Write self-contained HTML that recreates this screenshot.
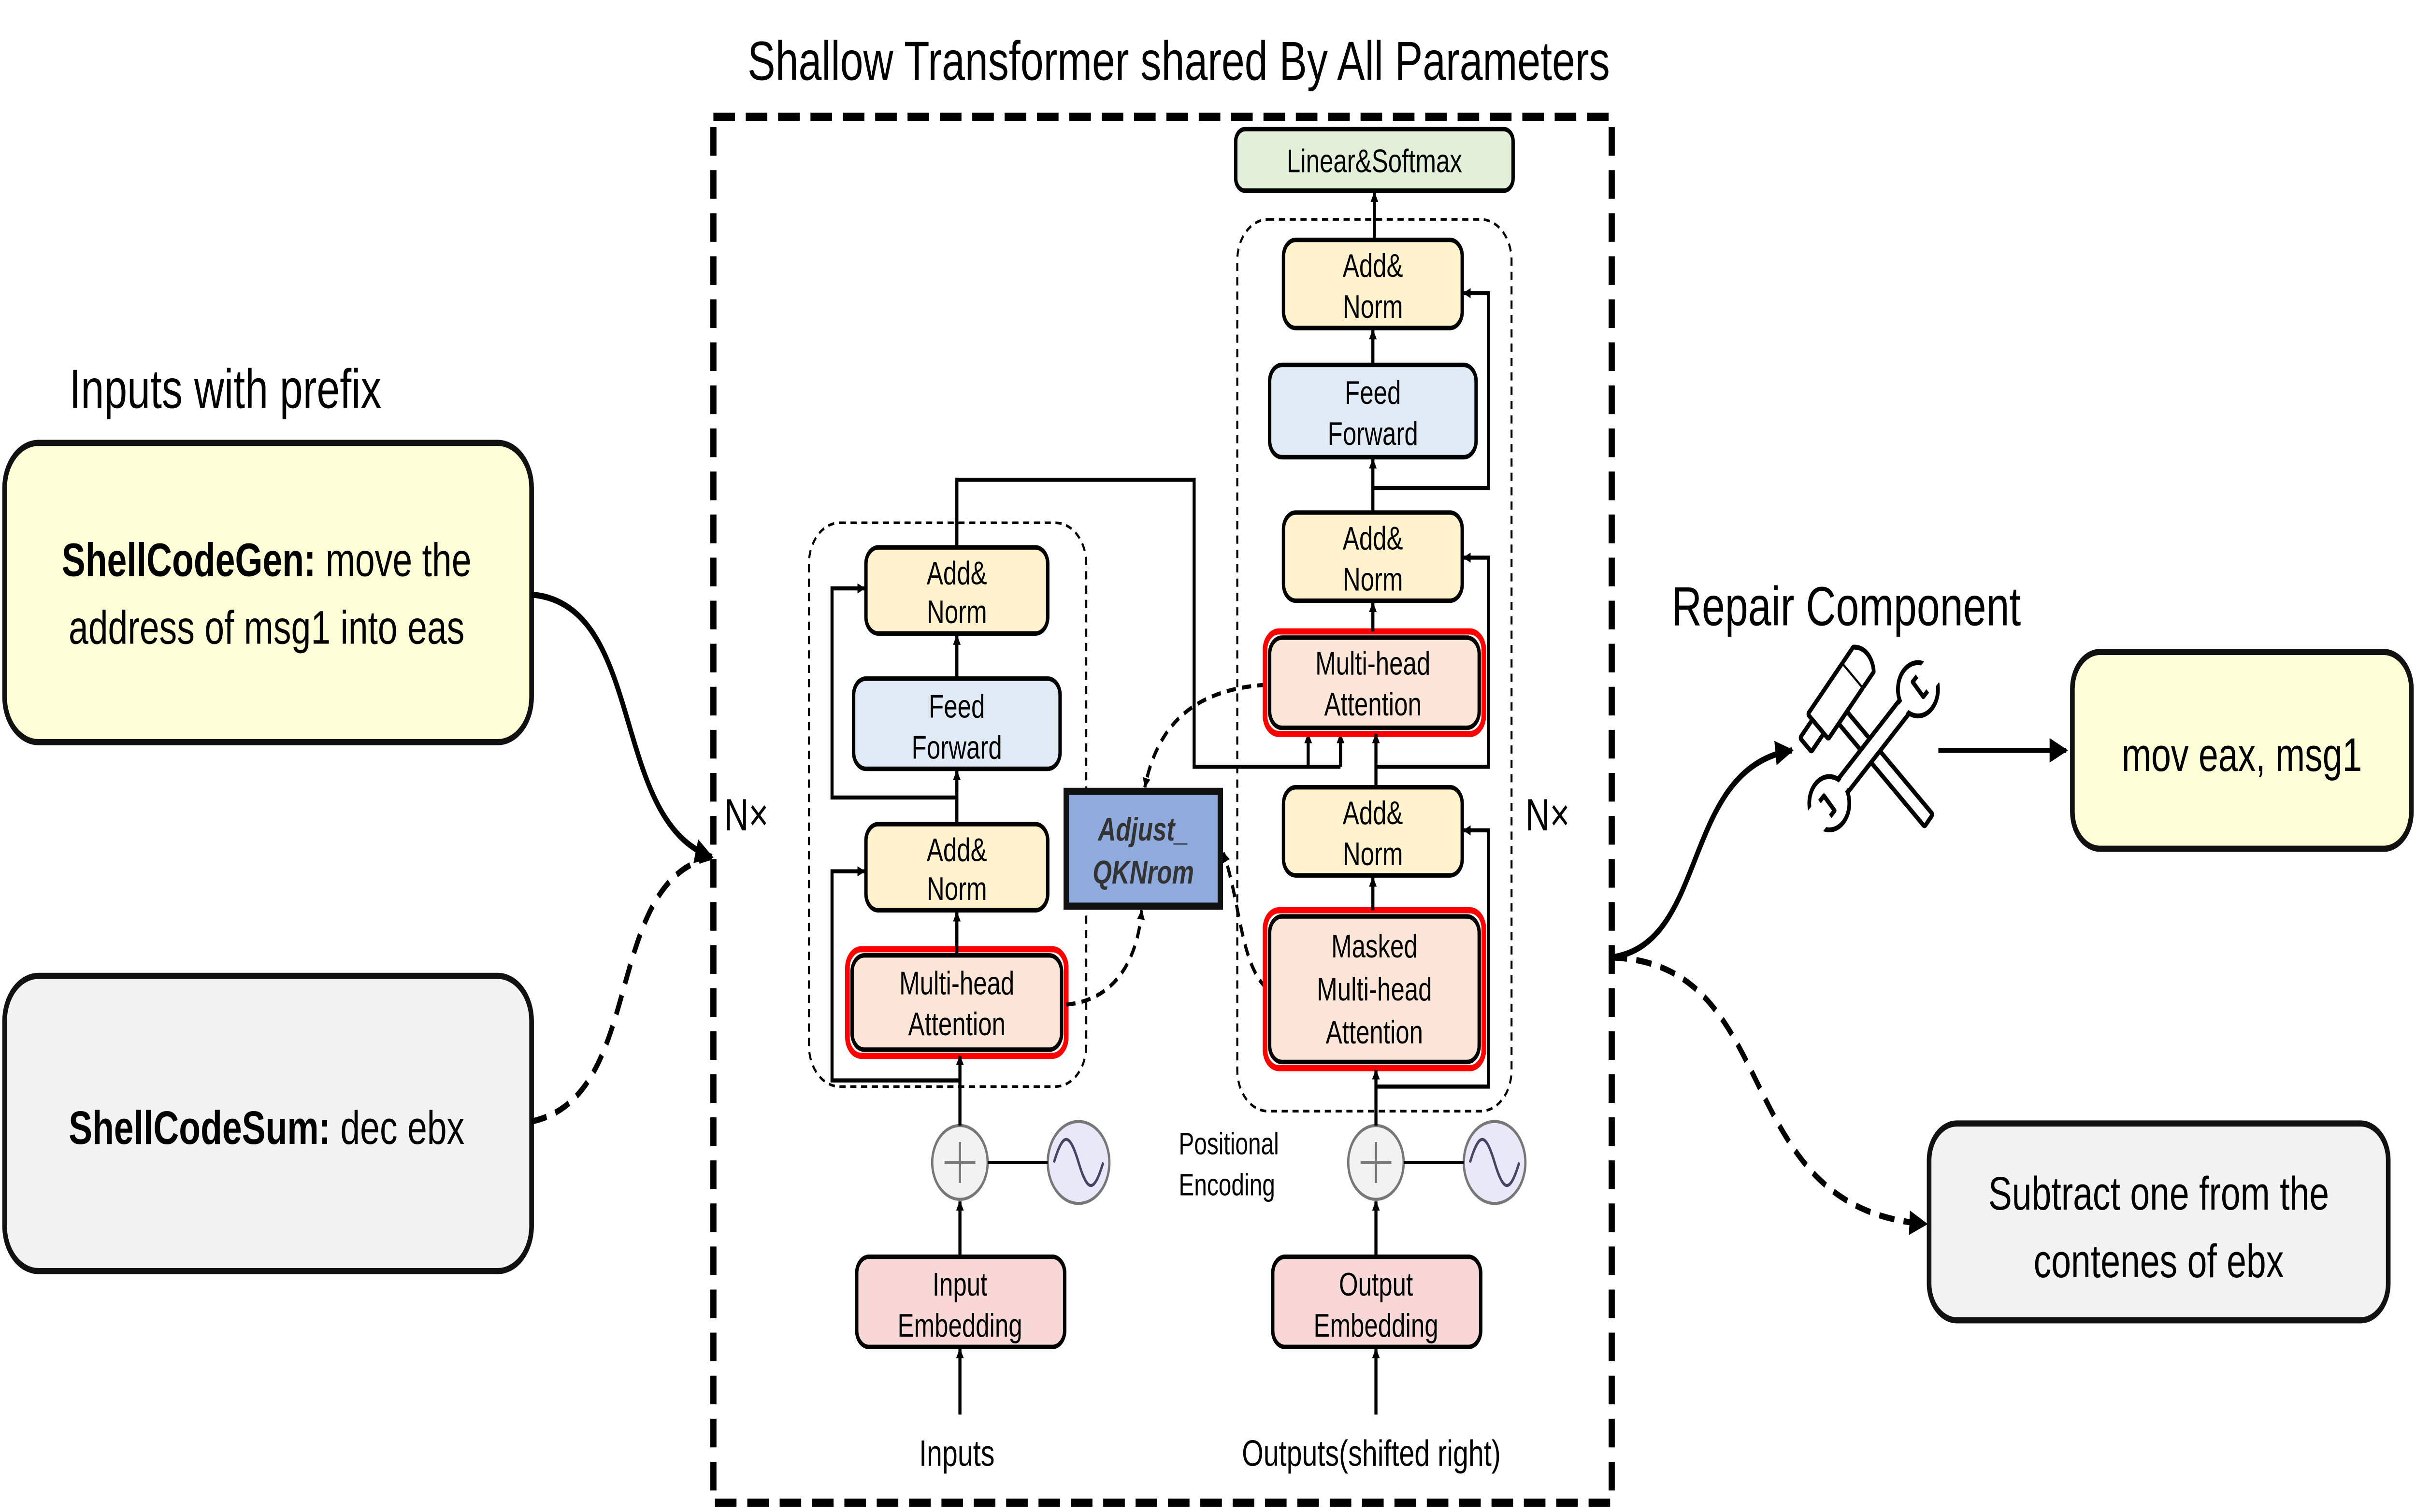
<!DOCTYPE html>
<html><head><meta charset="utf-8"><style>
html,body{margin:0;padding:0;background:#fff;overflow:hidden;width:100vw;height:100vh;}
svg{display:block;position:fixed;left:0;top:0;width:100vw;height:100vh;}
text{font-family:"Liberation Sans",sans-serif;}
</style></head><body>
<svg viewBox="0 0 1568 737.5" preserveAspectRatio="none" xmlns="http://www.w3.org/2000/svg">
<defs>
<marker id="a" viewBox="0 0 10 10" refX="9" refY="5" markerWidth="5" markerHeight="5" orient="auto-start-reverse" markerUnits="userSpaceOnUse"><path d="M0,0 L10,5 L0,10 z" fill="#000"/></marker>
<marker id="b" viewBox="0 0 10 10" refX="9" refY="5" markerWidth="12" markerHeight="12" orient="auto" markerUnits="userSpaceOnUse"><path d="M0,0 L10,5 L0,10 z" fill="#000"/></marker>
</defs>
<rect width="1568" height="737.5" fill="#fff"/>
<text x="765" y="39" font-size="27" text-anchor="middle">Shallow Transformer shared By All Parameters</text>
<rect x="463" y="57" width="583" height="676" fill="none" stroke="#000" stroke-width="4" stroke-dasharray="14,7"/>

<text x="45" y="199" font-size="27">Inputs with prefix</text>
<rect x="3" y="216" width="342" height="146" rx="22" fill="#fdfdd6" stroke="#111" stroke-width="3"/>
<text x="173" y="281" font-size="23" text-anchor="middle"><tspan font-weight="bold">ShellCodeGen:</tspan> move the</text>
<text x="173" y="314" font-size="23" text-anchor="middle">address of msg1 into eas</text>
<rect x="3" y="476" width="342" height="144" rx="22" fill="#f2f2f2" stroke="#111" stroke-width="3"/>
<text x="173" y="558" font-size="23" text-anchor="middle"><tspan font-weight="bold">ShellCodeSum:</tspan> dec ebx</text>
<path d="M345,290 C420,295 395,400 462,418" fill="none" stroke="#000" stroke-width="3" marker-end="url(#b)"/>
<path d="M345,547 C420,535 390,430 462,418" fill="none" stroke="#000" stroke-width="3" stroke-dasharray="10,6"/>
<text x="470" y="405" font-size="22">N×</text>
<text x="990" y="405" font-size="22">N×</text>

<!-- encoder -->
<rect x="525" y="255" width="180" height="275" rx="20" fill="none" stroke="#000" stroke-width="1.3" stroke-dasharray="4,3"/>
<g stroke="#000" stroke-width="2.2">
<rect x="562" y="267" width="118" height="42" rx="8" fill="#fff2cc"/>
<rect x="554" y="331" width="134" height="44" rx="8" fill="#dfeaf5"/>
<rect x="562" y="402" width="118" height="42" rx="8" fill="#fff2cc"/>
<rect x="550" y="463" width="142" height="52" rx="9" fill="none" stroke="#f00" stroke-width="3"/>
<rect x="553" y="466" width="136" height="46" rx="8" fill="#fbe5d6"/>
<rect x="556" y="613" width="135" height="44" rx="8" fill="#f8d7d7"/>
</g>
<g font-size="16" text-anchor="middle">
<text x="621" y="285">Add&amp;</text><text x="621" y="304">Norm</text>
<text x="621" y="350">Feed</text><text x="621" y="370">Forward</text>
<text x="621" y="420">Add&amp;</text><text x="621" y="439">Norm</text>
<text x="621" y="485">Multi-head</text><text x="621" y="505">Attention</text>
<text x="623" y="632">Input</text><text x="623" y="652">Embedding</text>
<text x="621" y="715" font-size="18">Inputs</text>
</g>
<circle cx="623" cy="567" r="18" fill="#f2f2f2" stroke="#777" stroke-width="1.5"/>
<path d="M613,567 H633 M623,557 V577" stroke="#777" stroke-width="1.5"/>
<circle cx="700" cy="567" r="20" fill="#e8e8f8" stroke="#777" stroke-width="1.5"/>
<path d="M684,567 C690,552 694,552 700,567 C706,582 710,582 716,567" fill="none" stroke="#446" stroke-width="1.5"/>
<line x1="641" y1="567" x2="680" y2="567" stroke="#000" stroke-width="1.5"/>
<g stroke="#000" stroke-width="2" fill="none" marker-end="url(#a)">
<line x1="623" y1="690" x2="623" y2="658"/>
<line x1="623" y1="613" x2="623" y2="586"/>
<line x1="623" y1="549" x2="623" y2="515"/>
<line x1="621" y1="466" x2="621" y2="445"/>
<line x1="621" y1="402" x2="621" y2="376"/>
<line x1="621" y1="331" x2="621" y2="310"/>
<path d="M623,527 H540 V425 H561"/>
<path d="M621,389 H540 V287 H561"/>
</g>
<path d="M621,267 V234 H775 V374 H870" fill="none" stroke="#000" stroke-width="2"/>
<g stroke="#000" stroke-width="2" marker-end="url(#a)">
<line x1="849" y1="374" x2="849" y2="358"/>
<line x1="870" y1="374" x2="870" y2="358"/>
</g>

<!-- adjust -->
<rect x="692" y="386" width="100" height="56" fill="#8faadc" stroke="#111" stroke-width="3.5"/>
<text x="742" y="410" font-size="16" font-weight="bold" font-style="italic" text-anchor="middle" fill="#333">Adjust_</text>
<text x="742" y="431" font-size="16" font-weight="bold" font-style="italic" text-anchor="middle" fill="#333">QKNrom</text>
<g fill="none" stroke="#000" stroke-width="2" stroke-dasharray="6,4" marker-end="url(#a)">
<path d="M822,334 C780,336 752,350 743,384"/>
<path d="M692,490 C722,488 738,470 741,444"/>
<path d="M822,482 C805,470 805,440 794,416"/>
</g>

<!-- decoder -->
<rect x="803" y="107" width="178" height="435" rx="20" fill="none" stroke="#000" stroke-width="1.3" stroke-dasharray="4,3"/>
<g stroke="#000" stroke-width="2.2">
<rect x="802" y="63" width="180" height="30" rx="6" fill="#e2efd9"/>
<rect x="833" y="117" width="116" height="43" rx="8" fill="#fff2cc"/>
<rect x="824" y="178" width="134" height="45" rx="8" fill="#dfeaf5"/>
<rect x="833" y="250" width="116" height="43" rx="8" fill="#fff2cc"/>
<rect x="821" y="308" width="142" height="50" rx="9" fill="none" stroke="#f00" stroke-width="3"/>
<rect x="824" y="311" width="136" height="44" rx="8" fill="#fbe5d6"/>
<rect x="833" y="384" width="116" height="43" rx="8" fill="#fff2cc"/>
<rect x="821" y="444" width="142" height="77" rx="9" fill="none" stroke="#f00" stroke-width="3"/>
<rect x="824" y="447" width="136" height="71" rx="8" fill="#fbe5d6"/>
<rect x="826" y="613" width="135" height="44" rx="8" fill="#f8d7d7"/>
</g>
<g font-size="16" text-anchor="middle">
<text x="892" y="84">Linear&amp;Softmax</text>
<text x="891" y="135">Add&amp;</text><text x="891" y="155">Norm</text>
<text x="891" y="197">Feed</text><text x="891" y="217">Forward</text>
<text x="891" y="268">Add&amp;</text><text x="891" y="288">Norm</text>
<text x="891" y="329">Multi-head</text><text x="891" y="349">Attention</text>
<text x="891" y="402">Add&amp;</text><text x="891" y="422">Norm</text>
<text x="892" y="467">Masked</text><text x="892" y="488">Multi-head</text><text x="892" y="509">Attention</text>
<text x="893" y="632">Output</text><text x="893" y="652">Embedding</text>
<text x="890" y="715" font-size="18">Outputs(shifted right)</text>
</g>
<text x="765" y="563" font-size="15">Positional</text>
<text x="765" y="583" font-size="15">Encoding</text>
<circle cx="893" cy="567" r="18" fill="#f2f2f2" stroke="#777" stroke-width="1.5"/>
<path d="M883,567 H903 M893,557 V577" stroke="#777" stroke-width="1.5"/>
<circle cx="970" cy="567" r="20" fill="#e8e8f8" stroke="#777" stroke-width="1.5"/>
<path d="M954,567 C960,552 964,552 970,567 C976,582 980,582 986,567" fill="none" stroke="#446" stroke-width="1.5"/>
<line x1="911" y1="567" x2="950" y2="567" stroke="#000" stroke-width="1.5"/>
<g stroke="#000" stroke-width="2" fill="none" marker-end="url(#a)">
<line x1="893" y1="690" x2="893" y2="658"/>
<line x1="893" y1="613" x2="893" y2="586"/>
<line x1="893" y1="549" x2="893" y2="522"/>
<line x1="891" y1="444" x2="891" y2="428"/>
<line x1="893" y1="384" x2="893" y2="358"/>
<line x1="891" y1="308" x2="891" y2="294"/>
<line x1="891" y1="250" x2="891" y2="224"/>
<line x1="891" y1="178" x2="891" y2="161"/>
<line x1="892" y1="117" x2="892" y2="94"/>
<path d="M893,530 H966 V405 H950"/>
<path d="M893,374 H966 V272 H950"/>
<path d="M891,238 H966 V143 H950"/>
</g>

<!-- right side -->
<text x="1085" y="305" font-size="27">Repair Component</text>
<!-- hammer -->
<g transform="translate(1196,350) rotate(42)" fill="#fff" stroke="#000" stroke-width="2.4" stroke-linejoin="round">
<rect x="0" y="-4" width="75" height="8" rx="1"/>
<rect x="-18" y="-20" width="18" height="34" rx="1"/>
<path d="M-18,-20 L-18,-30 C-12,-36 -4,-34 0,-30 L0,-20"/>
<rect x="-14" y="14" width="10" height="12" rx="1"/>
</g>
<!-- wrench -->
<g transform="translate(1216,364) rotate(-44)" fill="#fff" stroke="#000" stroke-width="2.4" stroke-linejoin="round">
<rect x="-30" y="-4.5" width="60" height="9" rx="1"/>
<circle cx="40" cy="0" r="13"/>
<circle cx="-40" cy="0" r="13"/>
<rect x="40" y="-5" width="16" height="10" fill="#fff" stroke="#000"/>
<rect x="-56" y="-5" width="16" height="10" fill="#fff" stroke="#000"/>
<rect x="44" y="-7" width="14" height="14" fill="#fff" stroke="none"/>
<rect x="-58" y="-7" width="14" height="14" fill="#fff" stroke="none"/>
<rect x="-29" y="-3" width="58" height="6" fill="#fff" stroke="none"/>
</g>
<line x1="1258" y1="366" x2="1341" y2="366" stroke="#000" stroke-width="2.5" marker-end="url(#b)"/>
<rect x="1345" y="318" width="220" height="96" rx="18" fill="#fdfdd6" stroke="#111" stroke-width="3"/>
<text x="1455" y="376" font-size="23" text-anchor="middle">mov eax, msg1</text>
<rect x="1252" y="548" width="298" height="96" rx="18" fill="#f2f2f2" stroke="#111" stroke-width="3"/>
<text x="1401" y="590" font-size="23" text-anchor="middle">Subtract one from the</text>
<text x="1401" y="623" font-size="23" text-anchor="middle">contenes of ebx</text>
<path d="M1046,467 C1110,460 1090,375 1163,366" fill="none" stroke="#000" stroke-width="3" marker-end="url(#b)"/>
<path d="M1046,467 C1160,470 1120,590 1250,597" fill="none" stroke="#000" stroke-width="3" stroke-dasharray="10,6" marker-end="url(#b)"/>
</svg>
</body></html>
